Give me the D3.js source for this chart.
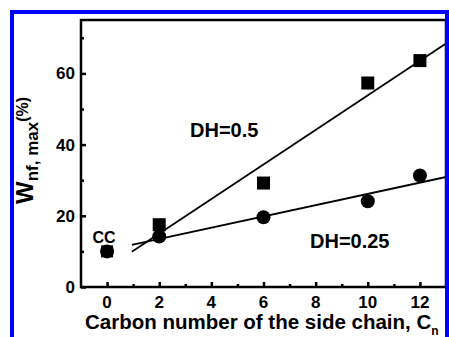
<!DOCTYPE html>
<html>
<head>
<meta charset="utf-8">
<script src="https://cdn.jsdelivr.net/npm/d3@7"></script>
<style>
  body { margin: 0; background: #fff; }
  text { font-family: Arial, "Liberation Sans", sans-serif; font-weight: bold; }
</style>
</head>
<body>
<svg width="449" height="337"></svg>
<script>
// carbon number of side chain
var carbonDH05 = [2, 6, 10, 12];
var wDH05 = [17.5, 29.2, 57.3, 63.6];
var carbonDH025 = [2, 6, 10, 12];
var wDH025 = [14.2, 19.6, 24.1, 31.3];
// CC reference point
var ccPoint = [0, 10];
// fitted lines (endpoints)
var fitDH05 = [[0.95, 9.9], [13, 68.4]];
var fitDH025 = [[0.95, 11.8], [13, 30.9]];
var xTicks = [0, 2, 4, 6, 8, 10, 12];
var yTicks = [0, 20, 40, 60];

var svg = d3.select("svg");
var pLeft = 81, pRight = 446, pTop = 20, pBottom = 287;

var x = d3.scaleLinear().domain([-1, 13]).range([pLeft, pRight]);
var y = d3.scaleLinear().domain([0, 75]).range([pBottom, pTop]);

var g = svg.append("g");

// frame
g.append("rect")
  .attr("x", pLeft).attr("y", pTop)
  .attr("width", pRight - pLeft).attr("height", pBottom - pTop)
  .attr("fill", "none").attr("stroke", "#000").attr("stroke-width", 2.5);

// ticks pointing inward
function thick(s) { s.select(".domain").remove(); s.selectAll("line").attr("stroke-width", 2.5); }
g.append("g").attr("transform", "translate(0," + pBottom + ")")
  .call(d3.axisTop(x).tickValues(xTicks).tickSize(5).tickFormat("")).call(thick);
g.append("g").attr("transform", "translate(0," + pBottom + ")")
  .call(d3.axisTop(x).tickValues([1, 3, 5, 7, 9, 11]).tickSize(3).tickFormat("")).call(thick);
g.append("g").attr("transform", "translate(" + pLeft + ",0)")
  .call(d3.axisRight(y).tickValues(yTicks).tickSize(5).tickFormat("")).call(thick);
g.append("g").attr("transform", "translate(" + pLeft + ",0)")
  .call(d3.axisRight(y).tickValues([10, 30, 50, 70]).tickSize(3).tickFormat("")).call(thick);

// tick labels
g.selectAll(".xl").data(xTicks).enter().append("text")
  .attr("x", function (d) { return x(d); }).attr("y", 307.5)
  .attr("text-anchor", "middle").style("font-size", "17px").text(function (d) { return d; });
g.selectAll(".yl").data(yTicks).enter().append("text")
  .attr("x", 75).attr("y", function (d) { return y(d) + 6; })
  .attr("text-anchor", "end").style("font-size", "17px").text(function (d) { return d; });

// fit lines
var line = d3.line().x(function (d) { return x(d[0]); }).y(function (d) { return y(d[1]); });
[fitDH05, fitDH025].forEach(function (f) {
  g.append("path").attr("d", line(f)).attr("fill", "none")
    .attr("stroke", "#000").attr("stroke-width", 1.8);
});

// squares
var sq = 13;
g.selectAll(".sq").data(d3.zip(carbonDH05, wDH05)).enter().append("rect")
  .attr("x", function (d) { return x(d[0]) - sq / 2; })
  .attr("y", function (d) { return y(d[1]) - sq / 2; })
  .attr("width", sq).attr("height", sq).attr("fill", "#000");
// circles
g.selectAll(".ci").data(d3.zip(carbonDH025, wDH025)).enter().append("circle")
  .attr("cx", function (d) { return x(d[0]); })
  .attr("cy", function (d) { return y(d[1]); })
  .attr("r", 7).attr("fill", "#000");
// CC: square + circle overlapped
g.append("rect").attr("x", x(ccPoint[0]) - 6).attr("y", y(ccPoint[1]) - 6)
  .attr("width", 12).attr("height", 12).attr("fill", "#000");
g.append("circle").attr("cx", x(ccPoint[0])).attr("cy", y(ccPoint[1])).attr("r", 7).attr("fill", "#000");

// annotations
g.append("text").attr("x", 104).attr("y", 243).attr("text-anchor", "middle")
  .style("font-size", "16px").text("CC");
g.append("text").attr("x", 190).attr("y", 137).style("font-size", "20px").text("DH=0.5");
g.append("text").attr("x", 310).attr("y", 248).style("font-size", "20px").text("DH=0.25");

// x axis title
var xt = g.append("text").attr("x", 85).attr("y", 329).style("font-size", "20.5px");
xt.append("tspan").text("Carbon number of the side chain, C");
xt.append("tspan").attr("dy", 6).style("font-size", "12px").text("n");

// y axis title
var yt = g.append("text").attr("transform", "translate(33,204) rotate(-90)").style("font-size", "24px");
yt.append("tspan").text("W");
yt.append("tspan").attr("dy", 5).style("font-size", "17px").text("nf, max");
yt.append("tspan").attr("dy", -10).style("font-size", "16px").text("(%)");

// blue border
svg.append("rect").attr("x", 12).attr("y", 12).attr("width", 435).attr("height", 400)
  .attr("fill", "none").attr("stroke", "#0000ff").attr("stroke-width", 4);
</script>
</body>
</html>
